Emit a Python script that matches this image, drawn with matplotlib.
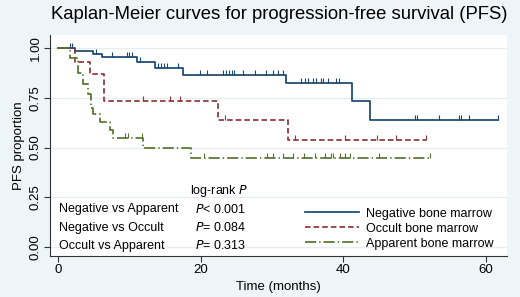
import numpy as np
import matplotlib
matplotlib.use("Agg")
import matplotlib.pyplot as plt
from matplotlib.path import Path

plt.rcParams['font.family'] = ['Liberation Sans', 'DejaVu Sans']
plt.rcParams['lines.scale_dashes'] = False

# step curves (time, survival after that time)
neg_t = [0, 2.3, 4.9, 6.1, 11.0, 13.5, 17.5, 32.0, 41.2, 43.7, 61.7]
neg_s = [1.0, 0.985, 0.972, 0.958, 0.932, 0.902, 0.866, 0.826, 0.732, 0.640, 0.640]
occ_t = [0, 2.3, 4.4, 6.4, 22.4, 32.3, 51.6]
occ_s = [1.0, 0.933, 0.873, 0.733, 0.641, 0.539, 0.539]
app_t = [0, 1.6, 2.8, 3.5, 4.2, 4.6, 4.9, 5.8, 7.2, 7.7, 11.9, 18.6, 52.2]
app_s = [1.0, 0.95, 0.875, 0.822, 0.77, 0.70, 0.67, 0.63, 0.59, 0.548, 0.496, 0.445, 0.445]

# censored observations
neg_cens = [1.6, 1.9, 5.3, 7.5, 9.6, 9.9, 10.3, 11.4, 14.0, 14.4, 14.8, 15.2, 16.8,
            19.9, 20.8, 23.1, 23.5, 24.0, 24.4, 24.6, 25.9, 27.6, 29.2, 30.1, 30.8, 31.5,
            34.1, 34.6, 35.1, 35.8, 36.2, 36.9, 37.2, 37.9, 39.0, 39.4,
            50.1, 50.4, 53.5, 56.3, 56.6, 57.7, 61.7]
occ_cens = [11.9, 15.6, 17.1, 23.4, 33.2, 40.2, 44.8, 47.4, 51.6]
app_cens = [9.3, 9.8, 11.7, 20.5, 29.3, 30.2, 31.5, 33.0, 34.5, 36.0, 37.5,
            38.3, 38.6, 39.5, 40.2, 41.0, 45.0, 52.2]

labels = ['Negative bone marrow', 'Occult bone marrow', 'Apparent bone marrow']
colors = ['#1a476f', '#90353b', '#55752f']
dashes = [(None, None), (4, 2.2), (8, 2.2, 1, 2.2)]

tests = ['Negative vs Apparent', 'Negative vs Occult', 'Occult vs Apparent']
pvals = ['< 0.001', '= 0.084', '= 0.313']

bg = '#eef5f8'
fig = plt.figure(figsize=(5.2, 2.97), dpi=100, facecolor=bg)
ax = fig.add_axes([0.096, 0.138, 0.879, 0.744])
ax.set_facecolor('white')

tick_up = Path([(0, 0), (0, 1)])

curves = [(neg_t, neg_s, neg_cens), (occ_t, occ_s, occ_cens), (app_t, app_s, app_cens)]
for (t, s, cens), lab, col, ds in zip(curves, labels, colors, dashes):
    line, = ax.step(t, s, where='post', color=col, lw=1.25, label=lab)
    if ds[0] is not None:
        line.set_dashes(ds)
    idx = np.searchsorted(t, cens, side='right') - 1
    cy = np.array(s)[idx]
    ax.plot(cens, cy, ls='none', marker=tick_up, ms=7, mew=0.8, color=col)

ax.set_xlim(-1.2, 63)
ax.set_ylim(-0.047, 1.067)
ax.set_xticks([0, 20, 40, 60])
ax.set_yticks([0, 0.25, 0.5, 0.75, 1.0])
ax.set_yticklabels(['0.00', '0.25', '0.50', '0.75', '1.00'], rotation=90, va='center')
ax.tick_params(labelsize=9.5, length=4, width=0.8, color='#333333', pad=2)
ax.yaxis.grid(True, color='#e3ecef', lw=0.8)
ax.set_axisbelow(True)
for sp in ['top', 'right']:
    ax.spines[sp].set_visible(False)
for sp in ['left', 'bottom']:
    ax.spines[sp].set_color('#333333')
    ax.spines[sp].set_linewidth(0.8)

ax.set_xlabel('Time (months)', fontsize=9.5, labelpad=3)
ax.set_ylabel('PFS proportion', fontsize=9.5, labelpad=3)
fig.suptitle('Kaplan-Meier curves for progression-free survival (PFS)',
             fontsize=13.3, x=0.537, y=0.98)

ax.text(22.5, 0.282, 'log-rank $P$', fontsize=9, ha='center', va='center')
for i, (tst, pv) in enumerate(zip(tests, pvals)):
    yy = 0.188 - i * 0.092
    ax.text(0.1, yy, tst, fontsize=9, va='center')
    ax.text(19.2, yy, '$P$' + pv, fontsize=9, va='center')

ax.legend(loc='lower right', frameon=False, fontsize=9, handlelength=4.3,
          handletextpad=0.6, labelspacing=0.25, borderaxespad=0.1,
          bbox_to_anchor=(0.985, 0.0))

fig.savefig('out.png', dpi=100, facecolor=bg)
